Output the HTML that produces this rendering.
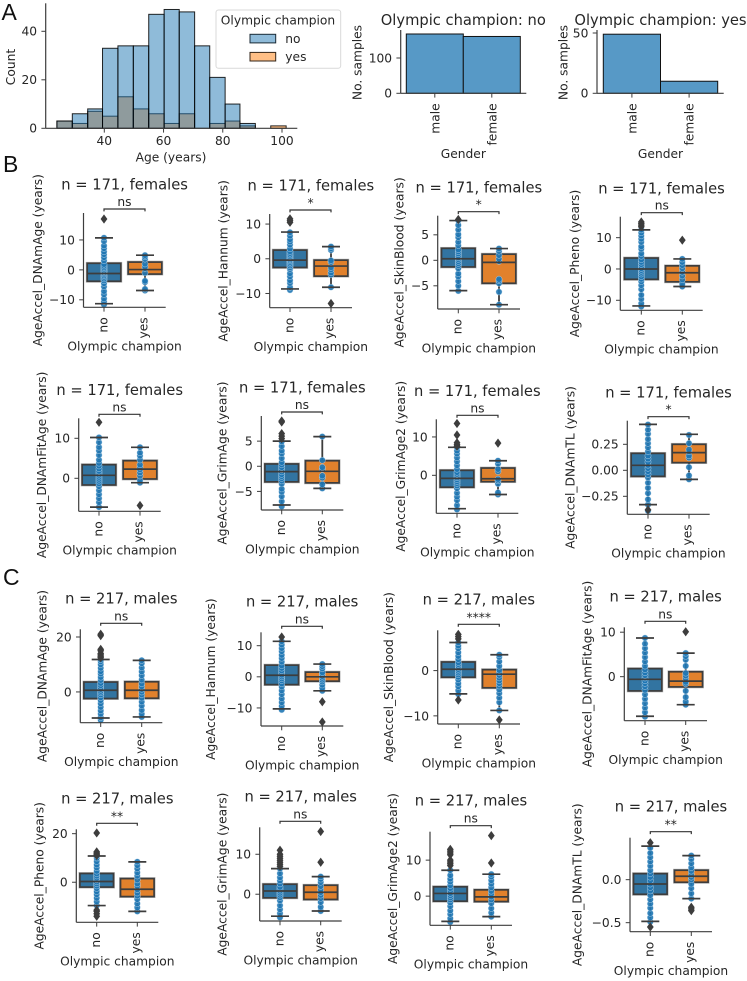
<!DOCTYPE html>
<html lang="en">
<head>
<meta charset="utf-8">
<title>Olympic champion epigenetic age acceleration</title>
<style>
html,body{margin:0;padding:0;background:#fff;}
svg{display:block;font-family:"DejaVu Sans","Liberation Sans",sans-serif;fill:#262626;}
</style>
</head>
<body>
<svg id="figure" xmlns="http://www.w3.org/2000/svg" width="747" height="981" viewBox="0 0 747 981"></svg>
<script>
/* ---------- Panel A data ---------- */
const ageEdges = [24.0,29.2,34.4,39.4,44.6,49.8,55.0,60.2,65.3,70.5,75.6,80.8,85.8,91.0,96.2,101.4];
const ageCountsNo = [3,6,8,33,34,34,47,49,48,34,21,10,2,0,0];
const ageCountsYes = [3,2,7,5,13,8,6,2,6,0,2,3,1,0,1];
const ageXTicks = [40,60,80,100];
const ageYTicks = [0,20,40];
const genderCategories = ['male','female'];
const genderCountsNo = [168,161];
const genderCountsYes = [49,10];
const genderTicksNo = [0,100];
const genderTicksYes = [0,50];

/* ---------- Panels B / C data ---------- */
const groupCategories = ['no','yes'];
const panelTitles = ['n = 171, females','n = 171, females','n = 171, females','n = 171, females','n = 171, females','n = 171, females','n = 171, females','n = 171, females','n = 217, males','n = 217, males','n = 217, males','n = 217, males','n = 217, males','n = 217, males','n = 217, males','n = 217, males'];
const panelYLabels = ['AgeAccel_DNAmAge (years)','AgeAccel_Hannum (years)','AgeAccel_SkinBlood (years)','AgeAccel_Pheno (years)','AgeAccel_DNAmFitAge (years)','AgeAccel_GrimAge (years)','AgeAccel_GrimAge2 (years)','AgeAccel_DNAmTL (years)','AgeAccel_DNAmAge (years)','AgeAccel_Hannum (years)','AgeAccel_SkinBlood (years)','AgeAccel_DNAmFitAge (years)','AgeAccel_Pheno (years)','AgeAccel_GrimAge (years)','AgeAccel_GrimAge2 (years)','AgeAccel_DNAmTL (years)'];
const panelSignificance = ['ns','*','*','ns','ns','ns','ns','*','ns','ns','****','ns','**','ns','ns','**'];
const panelTickLabels = [
 ['10','0','−10'],['10','0','−10'],['5','0','−5'],['10','0','−10'],
 ['10','0'],['5','0','−5'],['10','0'],['0.25','0.00','−0.25'],
 ['20','0'],['10','0','−10'],['0','−10'],['10','0'],
 ['20','0'],['10','0'],['10','0'],['0.0','−0.5']
];
const panelDomains = [
 [-12.5,19],[-14.1,12.9],[-9.55,8.75],[-13.2,16.7],
 [-8.25,15],[-8.7,10],[-9.9,14.6],[-0.423,0.477],
 [-11.2,22.8],[-15.8,14.3],[-11.8,8.9],[-9.9,11.1],
 [-16.5,21.8],[-6.7,16.75],[-8.1,17.9],[-0.605,0.488]
];
/* [q1, median, q3, whisker low, whisker high] */
const statsNo = [
 [-3.8,-1.2,2.2,-11.3,10.7],[-2.5,-0.4,2.5,-8.7,7.7],[-1.3,0.3,2.35,-5.95,7.8],[-3.3,0,3.5,-11.8,12.5],
 [-1.67,0.75,3.4,-7.2,10.2],[-3.1,-1.06,0.46,-7.7,5],[-3.1,-0.8,1.3,-8.7,7.3],[-0.058,0.048,0.163,-0.33,0.442],
 [-2.4,0.6,3.6,-9.5,11.8],[-2.5,0.5,3.75,-10.3,11.4],[-1.47,0.3,1.9,-5.15,6.2],[-3.2,-0.6,1.8,-8.9,8.7],
 [-2,0.3,3.6,-9.6,10.8],[-0.9,0.8,2.5,-5.5,6.4],[-1.4,0.75,2.6,-7,7.2],[-0.17,-0.05,0.07,-0.485,0.39]
];
const statsYes = [
 [-1.4,0.1,2.6,-6.9,4.9],[-5,-2.1,-0.4,-8.2,3.5],[-4.5,-0.4,1.2,-8.7,2.3],[-4.1,-1.2,1,-5.6,3.2],
 [-0.17,2.3,4.4,-1.1,7.75],[-3.3,-1,1.1,-4.4,5.9],[-1.65,-0.9,1.9,-5,3.8],[0.074,0.17,0.25,-0.087,0.346],
 [-2.3,0.6,3.7,-9.1,11.5],[-1.4,0,1.5,-4.5,4.1],[-3.8,-0.8,0.2,-8.8,3.5],[-2.3,-1,1.1,-6.3,5.3],
 [-5.9,-2.9,1.5,-12,8.4],[-1.3,0.5,2.25,-4.2,4.4],[-1.5,-0.2,1.75,-5.7,6.1],[-0.03,0.04,0.11,-0.22,0.28]
];
const fliersNo = [
 [17],[10.5,11,11.5],[8],[13.5,14,14.5,15],
 [14],[5.5,6,6.5,8.8,9],[7.6,8,8.5,10.5,13.5],[-0.38],
 [12.5,13,13.5,14,15,15.5,20.5,21],[12.8],[7,7.5,8,-6.5],[],
 [11,11.5,12,12.5,20.3,-11.5,-12,-13,-14],[7,7.5,8,8.5,9,9.5,10,11],[8.5,9,9.5,10,11.5,12,12.5,13],[0.43,-0.55]
];
const fliersYes = [
 [],[-12.9],[],[9.2],
 [-6.8],[],[8.4],[],
 [],[-8,-14.5],[-10.9],[10.1],
 [],[8,15.7],[9.2,16.8],[-0.32,-0.34,-0.36]
];
const pointsNo = [
 [-11.6,-10.6,-9.6,-8.2,-7.1,-5.6,-4.5,-3.6,-3,-2.4,-1.9,-1.4,-1,-0.6,-0.2,0.3,0.8,1.3,1.9,3.1,4.2,5.2,6.1,7.2,8.1,9.6,10.7],
 [-9,-8.2,-7,-6.2,-5.1,-4.2,-3,-2.5,-2,-1.5,-1,-0.6,-0.2,0.2,0.7,1.1,1.6,2.1,2.9,4,4.9,5.6,6.6,7.6],
 [-6,-5,-4.1,-3.2,-2.6,-1.6,-1,-0.6,-0.2,0.2,0.5,0.9,1.3,1.7,2.1,2.9,3.6,4.5,5.1,6,6.9,7.8],
 [-12,-11,-9.6,-8.3,-6.5,-5.2,-4,-3.2,-2.4,-1.6,-1,-0.4,0.2,0.8,1.5,2.2,3,4.1,5,6.4,7.2,8.6,9.6,10.6,11.6,12.5],
 [-7.2,-6,-5,-4,-3,-2,-1.3,-0.7,-0.2,0.3,0.8,1.3,1.8,2.4,3.1,3.8,4.6,5.8,6.9,7.8,9,10.2],
 [-8,-7,-6,-5.1,-4.5,-3.5,-2.9,-2.4,-2,-1.6,-1.1,-0.7,-0.2,0.3,0.8,1.6,2.5,3.1,4,4.9],
 [-8.9,-7.8,-6.5,-5.6,-4.6,-3.4,-2.7,-2.1,-1.6,-1.1,-0.6,-0.2,0.3,0.8,1.6,2.6,3.6,4.6,5.6,6.4,7.3],
 [-0.39,-0.33,-0.28,-0.22,-0.17,-0.12,-0.07,-0.04,-0.01,0.02,0.05,0.08,0.11,0.14,0.18,0.22,0.26,0.3,0.35,0.39,0.44],
 [-10.2,-9.3,-8,-6.8,-5.5,-4.2,-3,-2,-1,-0.3,0.3,1,1.6,2.4,3.2,4.3,5.4,6.6,7.5,8.7,10,11.1,11.8],
 [-10.6,-9.4,-8.2,-7,-5.6,-4.4,-3.2,-2.2,-1.2,-0.6,0,0.6,1.3,2,2.8,3.6,4.8,6,7,8.2,9.2,10.3,11.4],
 [-5.2,-4.4,-3.5,-2.8,-2,-1.4,-0.9,-0.5,-0.1,0.3,0.7,1,1.4,1.8,2.5,3.2,4,4.9,5.5,6.2],
 [-9,-8,-7,-6,-5,-4,-3,-2.2,-1.5,-0.9,-0.3,0.3,0.9,1.6,2.4,3.4,4.4,5.4,6.4,7.4,8.7],
 [-9.6,-8,-6.5,-5,-3.8,-2.5,-1.5,-0.6,0.2,1,1.8,2.6,3.5,4.6,6,7.2,8.6,10,10.8],
 [-5.8,-4.8,-3.8,-2.8,-1.6,-0.8,-0.2,0.3,0.8,1.3,1.8,2.6,3.4,4.2,5.2,6.4],
 [-7.2,-6.2,-5,-4,-2.8,-1.8,-1,-0.4,0.2,0.8,1.5,2.2,3,4,4.8,5.8,7.2],
 [-0.49,-0.44,-0.39,-0.33,-0.28,-0.23,-0.18,-0.13,-0.09,-0.05,-0.01,0.03,0.07,0.11,0.16,0.21,0.26,0.31,0.37]
];
const pointsYes = [
 [-6.9,-6.4,-4.1,-3.7,-1,0.5,1.1,2,3.6,4.4,4.9],
 [-8.2,-4.6,-4,-3.1,-2.5,-1,-0.5,2.5,3,3.5],
 [-8.7,-6.2,-4.5,-4,-3.7,-0.2,0.3,1,1.8,2.3],
 [-5.6,-4.8,-3.4,-2.2,-1,0.2,1.2,2.2,3.2],
 [-1.1,-0.5,0.6,1.4,2.2,2.8,3.4,4.6,5.6,6.4,7.75],
 [-4.4,-3.6,-2.3,-1.9,-0.6,-0.2,1.2,5.9],
 [-5,-4.5,-2.2,-1.4,-1,1,1.6,3,3.8],
 [-0.087,-0.05,0.03,0.12,0.14,0.18,0.2,0.26,0.34],
 [-9.1,-8,-6.6,-5,-3.6,-2.2,-1,0,1,2,3,4.4,6,7.4,8.8,10.4,11.5],
 [-4.5,-3.6,-2.6,-1.6,-1,-0.4,0.2,0.8,1.4,2.6,3.4,4.1],
 [-8.8,-7,-6,-5,-4.2,-3.4,-2.8,-2.2,-1.6,-1,-0.4,0.1,1,2,3,3.5],
 [-6.3,-5.6,-4.6,-3.2,-1.6,-1.2,-0.4,0.2,0.8,2.4,3.8,4.6,5.3],
 [-12,-10.4,-8.8,-7,-5.6,-4.4,-3,-1.6,-0.6,1,2.6,4,5.6,7,8.4],
 [-4.2,-3.2,-2,-1,-0.2,0.5,1.2,2,3,3.8,4.4],
 [-5.7,-4.6,-3.4,-2,-1,-0.2,0.6,1.4,2.4,3.4,4.4,5.4,6.1],
 [-0.22,-0.16,-0.1,-0.05,0,0.03,0.06,0.1,0.14,0.19,0.24,0.28]
];

/* ---------- Layout (figure geometry, not data) ---------- */
/* left, right, top, bottom, y-label x, centre of "no", centre of "yes" */
const panelLayout = [
 [83.5,165.7,213,307.3,42,104,145],[269.7,352,214,307.7,227.7,290,331],[437.7,520,215.7,309,403.3,458.3,499],[620.3,702.7,216.7,310.3,579,641.3,682.3],
 [78.7,160.7,418.3,511.3,46,99,140],[261.3,343.3,416,510,226.7,281.7,322.3],[436.3,518.3,419.3,513.3,405,457,498],[627.3,709.7,420.7,514.3,574.3,648,689],
 [80.3,162.3,629.3,722.7,46.7,100.7,141.7],[261,343.3,632.3,726,215,281.7,322.3],[437.7,520,630.3,724,393,458.3,499.3],[624.3,707,627.3,720.7,591.3,645,685.7],
 [76.3,158.3,829.3,922.3,43.3,96.7,137.3],[259.7,341.7,827.3,921,226.7,280,320.7],[430,512,831.7,925.3,397,450.3,491.3],[630,712,837.7,931.7,581.3,650.3,691.3]
];
const TITLE_SIZE = 14.7, LABEL_SIZE = 12.25;
const TICK_LEN = 4.3, TICK_PAD = 8.6;
const INK = '#262626', LINE = '#3d3d3d';
const FILLS = {no:'#3274a1', yes:'#e1812c'};
const ROT_OFFSET = {no:3.4, yes:2.7, male:4.5, female:4.5};

const NS = 'http://www.w3.org/2000/svg';
const figure = document.getElementById('figure');
function add(parent, tag, attrs, text) {
  const el = document.createElementNS(NS, tag);
  for (const k in attrs) el.setAttribute(k, attrs[k]);
  if (text !== undefined) el.textContent = text;
  parent.appendChild(el);
  return el;
}
function linear(d0, d1, r0, r1) {
  return v => r0 + (v - d0) * (r1 - r0) / (d1 - d0);
}
function drawYAxis(g, left, top, bottom, scaleY, labels) {
  const spine = add(g, 'line', {x1:left, x2:left, y1:top, y2:bottom, stroke:LINE, 'stroke-width':1.2});
  
  
  labels.forEach(label => {
    const y = scaleY(Number(String(label).replace('−', '-')));
    const tick = add(g, 'line', {x1:left - TICK_LEN, x2:left, y1:y, y2:y, stroke:LINE, 'stroke-width':1});
    
    
    const text = add(g, 'text', {x:left - TICK_PAD, y:y + 4.4, 'text-anchor':'end', 'font-size':LABEL_SIZE}, label);
    
    
  });
}
function drawXBase(g, left, right, bottom) {
  const spine = add(g, 'line', {x1:left, x2:right, y1:bottom, y2:bottom, stroke:LINE, 'stroke-width':1.2});
  
  
}
function drawRotatedTick(g, x, bottom, label) {
  const tick = add(g, 'line', {x1:x, x2:x, y1:bottom, y2:bottom + TICK_LEN, stroke:LINE, 'stroke-width':1});
  
  
  const bx = x + ROT_OFFSET[label], by = bottom + 10;
  const text = add(g, 'text', {x:bx, y:by, 'text-anchor':'end', 'font-size':LABEL_SIZE, transform:'rotate(-90 ' + bx + ' ' + by + ')'}, label);
  
  
}
function drawYTitle(g, x, y, label) {
  const text = add(g, 'text', {x:x, y:y, 'text-anchor':'middle', 'font-size':LABEL_SIZE, transform:'rotate(-90 ' + x + ' ' + y + ')'}, label);
  
  
}
function drawXTitle(g, x, y, label) {
  const text = add(g, 'text', {x:x, y:y, 'text-anchor':'middle', 'font-size':LABEL_SIZE}, label);
  
  
}
function drawTitle(g, x, y, label) {
  const text = add(g, 'text', {x:x, y:y, 'text-anchor':'middle', 'font-size':TITLE_SIZE}, label);
  
  
}

/* ---------- Panel letters ---------- */
[['A',1.5,20],['B',3,172],['C',3,585]].forEach(item => {
  const letter = add(figure, 'text', {x:item[1], y:item[2], 'font-size':23, 'font-family':'"Liberation Sans",sans-serif', fill:'#111'}, item[0]);
  
  
});

/* ---------- Panel A: age histogram ---------- */
(function () {
  const g = add(figure, 'g', {});
  
  
  const left = 45.7, right = 297.3, top = 3.3, bottom = 128.3;
  const x = linear(40, 100, 104.3, 282);
  const y = linear(0, 40, bottom, 31.3);
  function series(counts, colour, name) {
    counts.forEach((count, i) => {
      if (!count) return;
      const bar = add(g, 'rect', {x:x(ageEdges[i]), y:y(count), width:x(ageEdges[i + 1]) - x(ageEdges[i]), height:bottom - y(count), fill:colour, 'fill-opacity':0.5, stroke:'#000', 'stroke-opacity':0.85, 'stroke-width':1});
      
      
    });
  }
  series(ageCountsYes, '#ff7f0e', 'age-bar-yes');
  series(ageCountsNo, '#1f77b4', 'age-bar-no');
  drawXBase(g, left, right, bottom);
  drawYAxis(g, left, top, bottom, y, ageYTicks);
  ageXTicks.forEach(v => {
    const tick = add(g, 'line', {x1:x(v), x2:x(v), y1:bottom, y2:bottom + TICK_LEN, stroke:LINE, 'stroke-width':1});
    
    
    const text = add(g, 'text', {x:x(v), y:145, 'text-anchor':'middle', 'font-size':LABEL_SIZE}, v);
    
    
  });
  drawXTitle(g, 171, 161.5, 'Age (years)');
  drawYTitle(g, 15, 67, 'Count');

  const legend = add(g, 'g', {});
  
  
  const frame = add(legend, 'rect', {x:216, y:10, width:124.7, height:58.3, rx:2.5, fill:'#fff', 'fill-opacity':0.85, stroke:'#d9d9d9', 'stroke-width':1});
  
  
  const lt = add(legend, 'text', {x:278, y:24.5, 'text-anchor':'middle', 'font-size':LABEL_SIZE}, 'Olympic champion');
  
  
  const swatchNo = add(legend, 'rect', {x:250, y:34.3, width:25.7, height:8.6, fill:'#8fbbd9', stroke:'#1a2a36', 'stroke-width':1});
  
  
  const labelNo = add(legend, 'text', {x:285.3, y:42.9, 'font-size':LABEL_SIZE}, 'no');
  
  
  const swatchYes = add(legend, 'rect', {x:250, y:52.4, width:25.7, height:8.6, fill:'#ffbf86', stroke:'#33261a', 'stroke-width':1});
  
  
  const labelYes = add(legend, 'text', {x:285.3, y:61, 'font-size':LABEL_SIZE}, 'yes');
  
  
})();

/* ---------- Panel A: gender bars ---------- */
function drawGender(counts, ticks, cfg) {
  const g = add(figure, 'g', {});
  
  
  const bottom = 93.3, top = 30;
  const y = linear(0, ticks[1], bottom, cfg.tickY);
  const step = cfg.barStep;
  counts.forEach((count, i) => {
    const bar = add(g, 'rect', {x:cfg.barLeft + i * step, y:y(count), width:step, height:bottom - y(count), fill:'#5799c6', stroke:'#111', 'stroke-width':1});
    
    
  });
  drawXBase(g, cfg.left, cfg.right, bottom);
  drawYAxis(g, cfg.left, top, bottom, y, ticks);
  genderCategories.forEach((label, i) => drawRotatedTick(g, cfg.barLeft + (i + 0.5) * step, bottom, label));
  drawXTitle(g, cfg.barLeft + step, 158, 'Gender');
  drawYTitle(g, cfg.yTitleX, 62.5, 'No. samples');
  drawTitle(g, cfg.titleX, 25, cfg.title);
}
drawGender(genderCountsNo, genderTicksNo, {name:'gender-bars-no', title:'Olympic champion: no', left:400.7, right:526.3, barLeft:406.3, barStep:57, tickY:58, yTitleX:361.7, titleX:463.3});
drawGender(genderCountsYes, genderTicksYes, {name:'gender-bars-yes', title:'Olympic champion: yes', left:597, right:723.7, barLeft:603.3, barStep:57.2, tickY:33, yTitleX:567.3, titleX:660.5});

/* ---------- Panels B / C: box plots ---------- */
panelTitles.forEach((title, p) => {
  const L = panelLayout[p];
  const left = L[0], right = L[1], top = L[2], bottom = L[3];
  const centres = [L[5], L[6]];
  const g = add(figure, 'g', {});
  
  
  const y = linear(panelDomains[p][0], panelDomains[p][1], bottom, top);
  const male = p >= 8;

  groupCategories.forEach((group, k) => {
    const cx = centres[k];
    const s = (k === 0 ? statsNo : statsYes)[p];
    const pts = (k === 0 ? pointsNo : pointsYes)[p];
    const fls = (k === 0 ? fliersNo : fliersYes)[p];
    const halo = add(g, 'rect', {x:cx - 16.8, y:y(s[2]), width:33.6, height:y(s[0]) - y(s[2]), fill:'none', stroke:'#b5b5b5', 'stroke-width':2.8});
    
    
    const box = add(g, 'rect', {x:cx - 16.8, y:y(s[2]), width:33.6, height:y(s[0]) - y(s[2]), fill:FILLS[group], stroke:LINE, 'stroke-width':1.7});
    
    
    const whiskerHigh = add(g, 'line', {x1:cx, x2:cx, y1:y(s[4]), y2:y(s[2]), stroke:LINE, 'stroke-width':1.8});
    
    
    const whiskerLow = add(g, 'line', {x1:cx, x2:cx, y1:y(s[0]), y2:y(s[3]), stroke:LINE, 'stroke-width':1.8});
    
    
    pts.forEach(v => {
      const dot = add(g, 'circle', {cx:cx, cy:y(v), r:3.1, fill:'#1f77b4', 'fill-opacity':0.9, stroke:'#cfe3f2', 'stroke-opacity':0.8, 'stroke-width':0.5});
      
      
    });
    const capHigh = add(g, 'line', {x1:cx - 9, x2:cx + 9, y1:y(s[4]), y2:y(s[4]), stroke:LINE, 'stroke-width':1.7});
    
    
    const capLow = add(g, 'line', {x1:cx - 9, x2:cx + 9, y1:y(s[3]), y2:y(s[3]), stroke:LINE, 'stroke-width':1.7});
    
    
    const median = add(g, 'line', {x1:cx - 16.8, x2:cx + 16.8, y1:y(s[1]), y2:y(s[1]), stroke:LINE, 'stroke-width':1.7});
    
    
    fls.forEach(v => {
      const fy = y(v);
      const flier = add(g, 'path', {d:'M' + cx + ' ' + (fy - 4.6) + 'L' + (cx + 3.4) + ' ' + fy + 'L' + cx + ' ' + (fy + 4.6) + 'L' + (cx - 3.4) + ' ' + fy + 'Z', fill:LINE});
      
      
    });
  });

  drawXBase(g, left, right, bottom);
  drawYAxis(g, left, top, bottom, y, panelTickLabels[p]);
  groupCategories.forEach((group, k) => drawRotatedTick(g, centres[k], bottom, group));
  const midX = (left + right) / 2;
  drawXTitle(g, midX, bottom + 43.4, 'Olympic champion');
  drawYTitle(g, L[4], (top + bottom) / 2, panelYLabels[p]);
  drawTitle(g, midX, top - (male ? 26 : 23.3), title);

  const by = top - (male ? 6 : 4);
  const bracket = add(g, 'path', {d:'M' + centres[0] + ' ' + (by + 2.4) + 'V' + by + 'H' + centres[1] + 'V' + (by + 2.4), fill:'none', stroke:'#333', 'stroke-width':1.2});
  
  
  const sig = add(g, 'text', {x:(centres[0] + centres[1]) / 2, y:by - 3, 'text-anchor':'middle', 'font-size':LABEL_SIZE}, panelSignificance[p]);
  
  
});
</script>
</body>
</html>
